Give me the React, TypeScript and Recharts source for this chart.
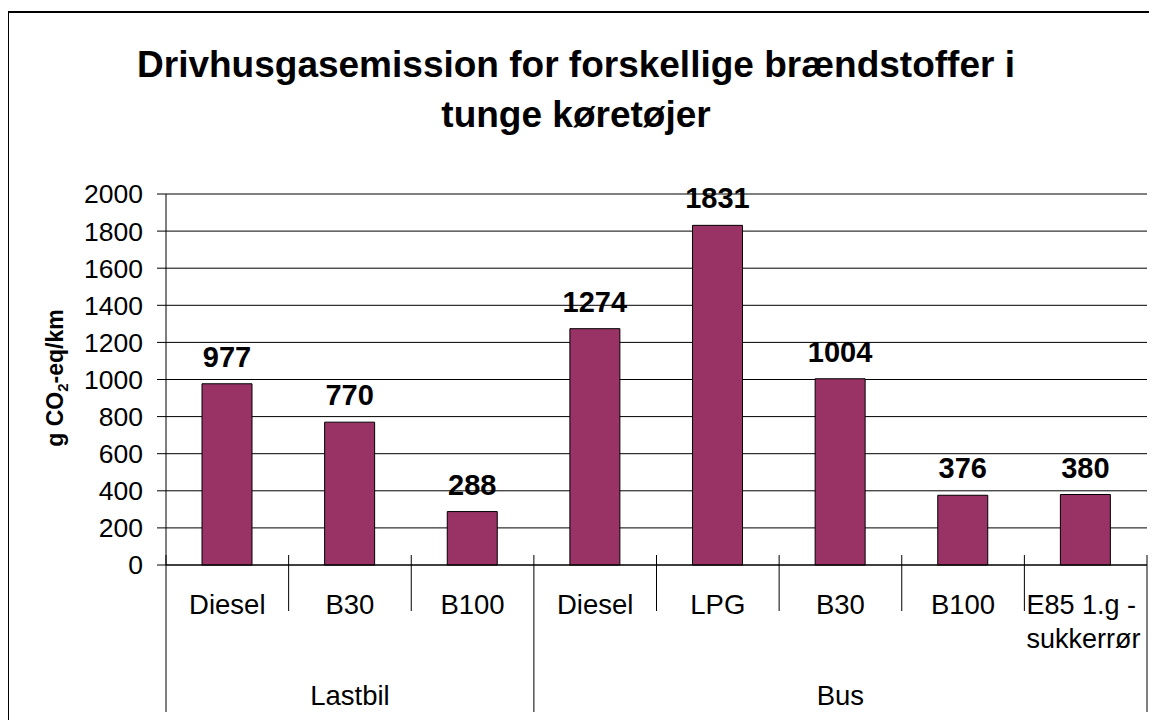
import { BarChart, Bar, XAxis, YAxis, CartesianGrid, LabelList } from "recharts";

const fuels = ["Diesel", "B30", "B100", "Diesel", "LPG", "B30", "B100", "E85 1.g -\nsukkerrør"];
const vehicles = ["Lastbil", "Lastbil", "Lastbil", "Bus", "Bus", "Bus", "Bus", "Bus"];
const emissions = [977, 770, 288, 1274, 1831, 1004, 376, 380];
const yTicks = [0, 200, 400, 600, 800, 1000, 1200, 1400, 1600, 1800, 2000];
const vehicleGroups = [
  { name: "Lastbil", start: 0, end: 2 },
  { name: "Bus", start: 3, end: 7 },
];

const data = fuels.map((fuel, i) => ({ fuel, vehicle: vehicles[i], value: emissions[i] }));

const FONT = "'Liberation Sans', Arial, sans-serif";
const W = 1157;
const H = 720;
const PLOT_LEFT = 166;
const PLOT_RIGHT = 1147;
const PLOT_TOP = 194;
const PLOT_BOTTOM = 565;
const BAND = (PLOT_RIGHT - PLOT_LEFT) / fuels.length;

function FuelTick(props: any) {
  const { x, y, payload } = props;
  const i = props.index ?? payload.index;
  const left = x - BAND / 2;
  const lines = String(payload.value).split("\n");
  const groupStart = vehicleGroups.some((g) => g.start === i);
  const isLast = i === fuels.length - 1;
  const group = vehicleGroups.find((g) => (g.start + g.end) / 2 === i);

  return (
    <g>
      <line x1={left} x2={left} y1={y - 10} y2={groupStart ? y + 147 : y + 46} stroke="#000" />
      {isLast && <line x1={left + BAND} x2={left + BAND} y1={y - 10} y2={y + 147} stroke="#000" />}
      {lines.length > 1 ? (
        <text x={left + 2} y={y + 49} fontSize={27} fill="#000" fontFamily={FONT}>
          {lines.map((l, k) => (
            <tspan key={k} x={left + 2} dy={k === 0 ? 0 : 34}>
              {l}
            </tspan>
          ))}
        </text>
      ) : (
        <text x={x} y={y + 49} fontSize={27.5} fill="#000" textAnchor="middle" fontFamily={FONT}>
          {lines[0]}
        </text>
      )}
      {group && (
        <text x={x} y={y + 140} fontSize={27.5} fill="#000" textAnchor="middle" fontFamily={FONT}>
          {group.name}
        </text>
      )}
    </g>
  );
}

function YLabel() {
  return (
    <text
      transform="translate(63, 378) rotate(-90)"
      textAnchor="middle"
      fontSize={23}
      fontWeight="bold"
      fill="#000"
      fontFamily={FONT}
    >
      g CO
      <tspan fontSize={15} dy={5}>2</tspan>
      <tspan dy={-5}>-eq/km</tspan>
    </text>
  );
}

export default function App() {
  return (
    <div
      style={{
        position: "relative",
        width: W,
        height: H,
        margin: "-8px 0 0 -8px",
        fontFamily: FONT,
        background: "#fff",
      }}
    >
      <BarChart
        width={W}
        height={H}
        data={data}
        margin={{ top: PLOT_TOP, right: W - PLOT_RIGHT, left: PLOT_LEFT - 140, bottom: 0 }}
        barSize={50}
      >
        <CartesianGrid vertical={false} stroke="#000" />
        <XAxis
          dataKey="fuel"
          interval={0}
          height={H - PLOT_BOTTOM}
          tickSize={0}
          tickMargin={0}
          tickLine={false}
          axisLine={{ stroke: "#000" }}
          tick={<FuelTick />}
        />
        <YAxis
          width={140}
          domain={[0, 2000]}
          ticks={yTicks}
          interval={0}
          tickSize={9}
          tickMargin={14}
          axisLine={{ stroke: "#000" }}
          tickLine={{ stroke: "#000" }}
          tick={{ fontSize: 26.5, fill: "#000", fontFamily: FONT }}
          label={<YLabel />}
        />
        <YAxis
          yAxisId="r"
          orientation="right"
          width={0}
          domain={[0, 2000]}
          tick={false}
          tickLine={false}
          axisLine={{ stroke: "#808080" }}
        />
        <Bar dataKey="value" fill="#993366" stroke="#000" strokeWidth={1} isAnimationActive={false}>
          <LabelList
            dataKey="value"
            position="top"
            offset={17}
            fontSize={29}
            fontWeight="bold"
            fill="#000"
            fontFamily={FONT}
          />
        </Bar>
      </BarChart>
      <svg
        width={W}
        height={H}
        style={{ position: "absolute", left: 0, top: 0, pointerEvents: "none" }}
      >
        <path d={`M 8 ${H} L 8 12 L ${W} 12`} fill="none" stroke="#000" strokeWidth={2} />
        <text x={576} y={77} textAnchor="middle" fontSize={37} fontWeight="bold" fill="#000" fontFamily={FONT}>
          Drivhusgasemission for forskellige brændstoffer i
        </text>
        <text x={576} y={127} textAnchor="middle" fontSize={37} fontWeight="bold" fill="#000" fontFamily={FONT}>
          tunge køretøjer
        </text>
      </svg>
    </div>
  );
}
